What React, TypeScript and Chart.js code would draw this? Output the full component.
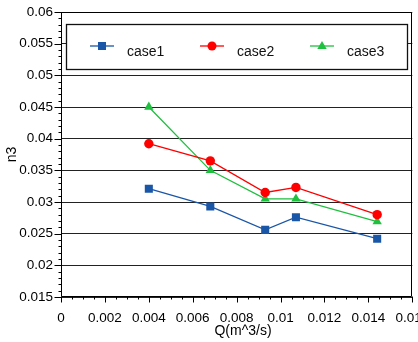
import React, { useEffect, useRef } from 'react';
import { Chart, registerables } from 'chart.js';

Chart.register(...registerables);

const flowRates = [0.004, 0.0068, 0.0093, 0.0107, 0.0144];
const case1 = [0.0321, 0.0293, 0.0256, 0.0276, 0.0242];
const case2 = [0.0392, 0.0365, 0.0315, 0.0323, 0.028];
const case3 = [0.045, 0.035, 0.0305, 0.0305, 0.0269];
const seriesNames = ['case1', 'case2', 'case3'];
const seriesColors = ['#1a56a8', '#ff0000', '#1fbf3f'];
const pointStyles = ['rect', 'circle', 'triangle'];
const pointRadii = [5.7, 4.7, 5.4];
const xTitle = 'Q(m^3/s)';
const yTitle = 'n3';

const FONT = "'Liberation Sans', Arial, sans-serif";

const fmt = (v: number) => String(parseFloat(Number(v).toFixed(4)));

const frameAndTicks = {
  id: 'frameAndTicks',
  afterDraw(chart: any) {
    const { ctx, chartArea } = chart;
    const xs = chart.scales.x;
    const ys = chart.scales.y;
    ctx.save();
    ctx.strokeStyle = '#000';
    ctx.lineWidth = 1;
    const L = Math.round(chartArea.left) + 0.5;
    const R = Math.round(chartArea.right) - 0.5;
    const T = Math.round(chartArea.top) + 0.5;
    const B = Math.round(chartArea.bottom) - 0.5;
    ctx.beginPath();
    ctx.rect(L, T, R - L, B - T);
    for (let i = 0; i <= 45; i++) {
      const v = 0.015 + i * 0.001;
      const py = Math.round(ys.getPixelForValue(v)) + 0.5;
      const len = i % 5 === 0 ? 7 : 3;
      ctx.moveTo(L - len, py);
      ctx.lineTo(L, py);
    }
    for (let i = 0; i <= 32; i++) {
      const v = i * 0.0005;
      const px = Math.round(xs.getPixelForValue(v)) + 0.5;
      const len = i % 4 === 0 ? 6 : 3;
      ctx.moveTo(px, B);
      ctx.lineTo(px, B + len);
    }
    ctx.stroke();
    // x tick labels
    ctx.fillStyle = '#000';
    ctx.font = `13.5px ${FONT}`;
    ctx.textAlign = 'center';
    ctx.textBaseline = 'alphabetic';
    xs.ticks.forEach((t: any) => {
      ctx.fillText(fmt(t.value), xs.getPixelForValue(t.value), 322);
    });
    // x axis title
    ctx.font = `14px ${FONT}`;
    ctx.fillText(xTitle, 243, 335);
    ctx.restore();
  },
};

const boxLegend = {
  id: 'boxLegend',
  afterDraw(chart: any) {
    const { ctx } = chart;
    ctx.save();
    const bx = 66.5, by = 24.5, bw = 341, bh = 45;
    ctx.fillStyle = '#fff';
    ctx.fillRect(bx, by, bw, bh);
    ctx.strokeStyle = '#111';
    ctx.lineWidth = 1.3;
    ctx.strokeRect(bx, by, bw, bh);
    const markerX = [102, 212, 322];
    const my = 46;
    chart.data.datasets.forEach((ds: any, i: number) => {
      const cx = markerX[i];
      ctx.strokeStyle = ds.borderColor;
      ctx.lineWidth = 1.3;
      ctx.beginPath();
      ctx.moveTo(cx - 12, my);
      ctx.lineTo(cx + 12, my);
      ctx.stroke();
      ctx.fillStyle = ds.borderColor;
      const style = ds.pointStyle;
      ctx.beginPath();
      if (style === 'rect') {
        ctx.rect(cx - 4, my - 4, 8, 8);
      } else if (style === 'circle') {
        ctx.arc(cx, my, 4.5, 0, Math.PI * 2);
      } else {
        ctx.moveTo(cx, my - 5);
        ctx.lineTo(cx + 4.7, my + 3);
        ctx.lineTo(cx - 4.7, my + 3);
        ctx.closePath();
      }
      ctx.fill();
      ctx.fillStyle = '#111';
      ctx.font = `14px ${FONT}`;
      ctx.textBaseline = 'alphabetic';
      ctx.textAlign = 'left';
      ctx.fillText(ds.label, cx + 25, 56);
    });
    ctx.restore();
  },
};

export default function App() {
  const ref = useRef<HTMLCanvasElement | null>(null);
  useEffect(() => {
    if (!ref.current) return;
    const datasets = [case1, case2, case3].map((vals, i) => ({
      label: seriesNames[i],
      data: flowRates.map((x, j) => ({ x, y: vals[j] })),
      borderColor: seriesColors[i],
      backgroundColor: seriesColors[i],
      pointBackgroundColor: seriesColors[i],
      pointBorderColor: seriesColors[i],
      pointBorderWidth: 0,
      pointStyle: pointStyles[i],
      pointRadius: pointRadii[i],
      borderWidth: 1.3,
      showLine: true,
      tension: 0,
    }));
    const chart = new Chart(ref.current, {
      type: 'scatter',
      data: { datasets },
      options: {
        animation: false,
        responsive: false,
        devicePixelRatio: 1,
        layout: { padding: { top: 12, right: 5, left: 0, bottom: 0 } },
        plugins: { legend: { display: false }, tooltip: { enabled: false } },
        scales: {
          x: {
            type: 'linear',
            min: 0,
            max: 0.016,
            ticks: {
              display: false,
              stepSize: 0.002,
              autoSkip: false,
              maxRotation: 0,
              callback: (v: any) => fmt(v),
            },
            grid: { display: false, drawTicks: false },
            border: { display: false },
            title: { display: false, text: xTitle },
            afterFit: (s: any) => {
              s.height = 45;
              s.paddingLeft = 0;
              s.paddingRight = 0;
            },
          },
          y: {
            type: 'linear',
            min: 0.015,
            max: 0.06,
            ticks: {
              stepSize: 0.005,
              autoSkip: false,
              padding: 8,
              color: '#000',
              font: { family: FONT, size: 13.5 },
              callback: (v: any) => fmt(v),
            },
            grid: { drawTicks: false, color: '#222', lineWidth: 1 },
            border: { display: false },
            title: {
              display: true,
              text: yTitle,
              color: '#000',
              font: { family: FONT, size: 14 },
              padding: { top: 4, bottom: 0 },
            },
            afterFit: (s: any) => {
              s.width = 61;
              s.paddingTop = 0;
              s.paddingBottom = 0;
            },
          },
        },
      },
      plugins: [frameAndTicks, boxLegend],
    } as any);
    return () => chart.destroy();
  }, []);
  return (
    <div style={{ position: 'absolute', left: 0, top: 0, width: 418, height: 342, background: '#fff' }}>
      <canvas ref={ref} width={418} height={342} />
    </div>
  );
}
